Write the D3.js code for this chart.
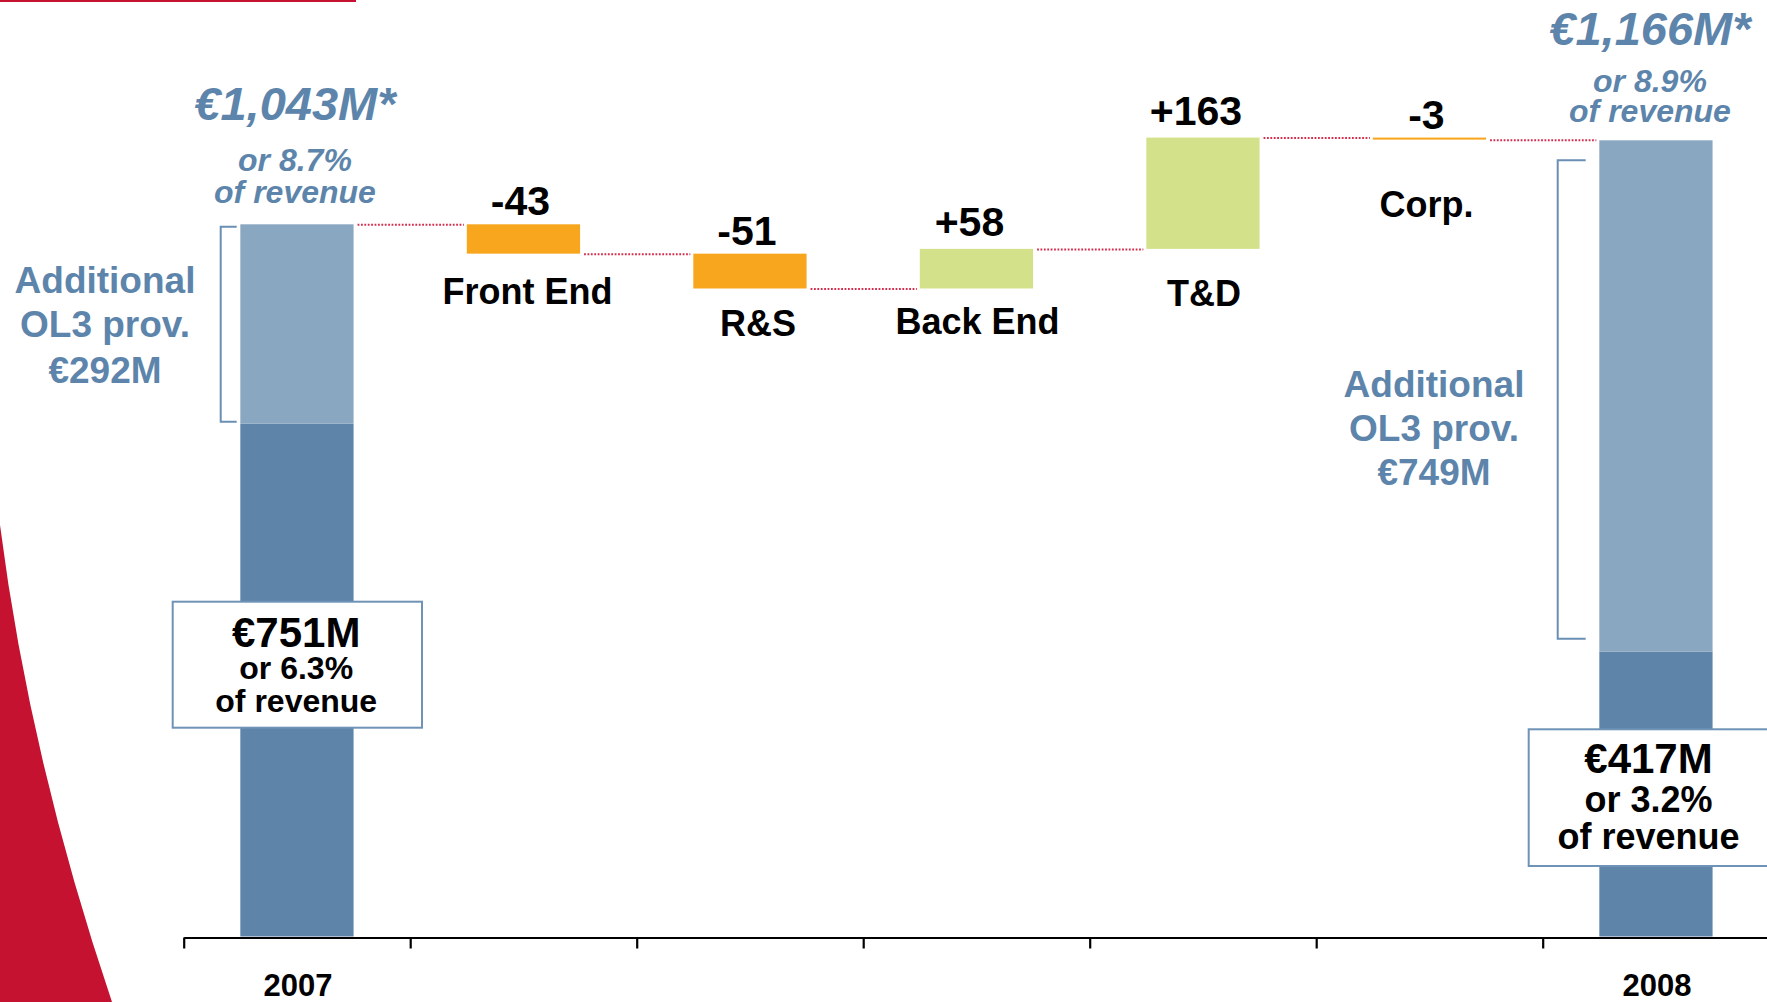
<!DOCTYPE html>
<html>
<head>
<meta charset="utf-8">
<script src="https://cdn.jsdelivr.net/npm/d3@7"></script>
<style>
  html, body { margin: 0; padding: 0; background: #fff; overflow: hidden; }
  svg { display: block; }
  text { font-family: "Liberation Sans", Arial, sans-serif; font-weight: bold; }
</style>
</head>
<body>
<svg id="chart" width="1767" height="1002"></svg>
<script>
// Operating income bridge 2007 -> 2008 (EUR millions)
const categories = ["2007", "Front End", "R&S", "Back End", "T&D", "Corp.", "2008"];
const startTotal = 1043;
const endTotal = 1166;
const deltas = [-43, -51, 58, 163, -3];
const deltaLabels = ["-43", "-51", "+58", "+163", "-3"];
const baseValues = [751, 417];          // before additional OL3 provisions
const provisions = [292, 749];          // additional OL3 provisions
const totalLabels = ["€1,043M*", "€1,166M*"];
const totalShares = ["or 8.7%", "or 8.9%"];
const baseLabels = ["€751M", "€417M"];
const baseShares = ["or 6.3%", "or 3.2%"];

const colors = {
  base: "#5e84a9",
  provision: "#8aa7c1",
  negative: "#f7a61e",
  positive: "#d3e28a",
  accent: "#5d85ab",
  red: "#c41230",
  connector: "#d42c4c"
};

const svg = d3.select("#chart");

// decorative red sweep at the lower left and rule at the top
svg.append("path")
  .attr("d", "M0,525 Q30,760 112,1002 L0,1002 Z")
  .attr("fill", colors.red);
svg.append("rect").attr("x", 0).attr("y", 0).attr("width", 356).attr("height", 2)
  .attr("fill", colors.red);

// scales
const x0 = 183.7, step = 226.5;
const x = d3.scaleBand().domain(categories)
  .range([x0, x0 + step * categories.length])
  .paddingInner(0.5).paddingOuter(0.25);
const y = d3.scaleLinear().domain([0, startTotal]).range([936.5, 224.3]);

// waterfall segments
const steps = [];
let running = startTotal;
deltas.forEach((d, i) => {
  steps.push({ cat: categories[i + 1], from: running, to: running + d, d, label: deltaLabels[i] });
  running += d;
});

// connector levels: after each bar
const levels = [startTotal, ...steps.map(s => s.to)];
const cx = c => x(c) + x.bandwidth() / 2;

svg.append("g").selectAll("line")
  .data(levels)
  .join("line")
  .attr("x1", (v, i) => x(categories[i]) + x.bandwidth() + 4)
  .attr("x2", (v, i) => x(categories[i + 1]) - 3)
  .attr("y1", v => y(v) + 0.5)
  .attr("y2", v => y(v) + 0.5)
  .attr("stroke", colors.connector)
  .attr("stroke-width", 2)
  .attr("stroke-dasharray", "1.8,1.6");

// total bars: base + provision
const totals = [
  { cat: categories[0], base: baseValues[0], total: startTotal },
  { cat: categories[6], base: baseValues[1], total: endTotal }
];
const tg = svg.append("g");
tg.selectAll("rect.base").data(totals).join("rect")
  .attr("class", "base")
  .attr("x", d => x(d.cat)).attr("width", x.bandwidth())
  .attr("y", d => y(d.base)).attr("height", d => y(0) - y(d.base))
  .attr("fill", colors.base);
tg.selectAll("rect.prov").data(totals).join("rect")
  .attr("class", "prov")
  .attr("x", d => x(d.cat)).attr("width", x.bandwidth())
  .attr("y", d => y(d.total)).attr("height", d => y(d.base) - y(d.total))
  .attr("fill", colors.provision);

// delta bars
svg.append("g").selectAll("rect").data(steps).join("rect")
  .attr("x", d => x(d.cat)).attr("width", x.bandwidth())
  .attr("y", d => y(Math.max(d.from, d.to)))
  .attr("height", d => Math.abs(y(d.from) - y(d.to)))
  .attr("fill", d => d.d < 0 ? colors.negative : colors.positive);

// delta value labels
svg.append("g").selectAll("text").data(steps).join("text")
  .attr("x", d => cx(d.cat) + (d.d < 0 ? -3 : -7))
  .attr("y", d => y(Math.max(d.from, d.to)) - (d.d < 0 ? 9 : 13))
  .attr("text-anchor", "middle")
  .attr("font-size", 41)
  .attr("fill", "#000")
  .text(d => d.label);

// category labels placed under each delta bar
const catLabelDy = [50, 48, 46, 57, 77];
svg.append("g").selectAll("text").data(steps).join("text")
  .attr("x", (d, i) => cx(d.cat) + [4, 8, 1, 1, -3][i])
  .attr("y", (d, i) => y(Math.min(d.from, d.to)) + catLabelDy[i])
  .attr("text-anchor", "middle")
  .attr("font-size", 36)
  .attr("fill", "#000")
  .text(d => d.cat);

// x axis with ticks on band boundaries
const edge = d3.scaleLinear().domain([0, categories.length]).range([x0, x0 + step * categories.length]);
const axis = svg.append("g")
  .attr("transform", `translate(0,${y(0) + 1})`)
  .call(d3.axisBottom(edge).tickValues(d3.range(categories.length)).tickSize(11).tickSizeOuter(0).tickFormat(""));
axis.selectAll("path,line").attr("stroke", "#000").attr("stroke-width", 2.2);

svg.append("g").selectAll("text").data(totals).join("text")
  .attr("x", d => cx(d.cat) + 1)
  .attr("y", 996)
  .attr("text-anchor", "middle")
  .attr("font-size", 31)
  .attr("fill", "#000")
  .text(d => d.cat);

// headline totals above the year bars
const headDy = [[-104, -53, -21], [-95, -48, -18]];
const headDx = [-2, -6];
totals.forEach((t, i) => {
  const top = y(t.total);
  const g = svg.append("g").attr("fill", colors.accent).attr("font-style", "italic").attr("text-anchor", "middle");
  g.append("text").attr("x", cx(t.cat) + headDx[i]).attr("y", top + headDy[i][0])
    .attr("font-size", 47).text(totalLabels[i]);
  g.append("text").attr("x", cx(t.cat) + headDx[i]).attr("y", top + headDy[i][1])
    .attr("font-size", 32).text(totalShares[i]);
  g.append("text").attr("x", cx(t.cat) + headDx[i]).attr("y", top + headDy[i][2])
    .attr("font-size", 32).text("of revenue");
});

// base value callout boxes
const boxes = [
  { x: 172.7, y: 601.7, w: 249.3, h: 126, cx: 296.2, fs: [42, 32, 32], base: [45, 77.3, 110.3] },
  { x: 1528.7, y: 729.3, w: 260, h: 136.7, cx: 1648.5, fs: [42, 36, 36], base: [43.4, 82.4, 119.7] }
];
boxes.forEach((b, i) => {
  svg.append("rect").attr("x", b.x).attr("y", b.y).attr("width", b.w).attr("height", b.h)
    .attr("fill", "#fff").attr("stroke", "#6e93b7").attr("stroke-width", 2);
  const lines = [baseLabels[i], baseShares[i], "of revenue"];
  svg.append("g").attr("text-anchor", "middle").attr("fill", "#000")
    .selectAll("text").data(lines).join("text")
    .attr("x", b.cx).attr("y", (d, j) => b.y + b.base[j])
    .attr("font-size", (d, j) => b.fs[j])
    .text(d => d);
});

// OL3 provision brackets and notes
const brackets = [
  { xLine: 220.7, xEnd: 236.7, y1: y(startTotal) + 2.4, y2: y(baseValues[0]) - 2 },
  { xLine: 1557.7, xEnd: 1585.7, y1: y(endTotal) + 20, y2: y(baseValues[1]) - 13 }
];
brackets.forEach(b => {
  svg.append("path")
    .attr("d", `M${b.xEnd},${b.y1} H${b.xLine} V${b.y2} H${b.xEnd}`)
    .attr("fill", "none").attr("stroke", "#6a8fb4").attr("stroke-width", 2);
});
const notes = [
  { cx: 105, base: [292.7, 337.3, 382.7] },
  { cx: 1434, base: [396.7, 440.5, 485] }
];
notes.forEach((n, i) => {
  const lines = ["Additional", "OL3 prov.", `€${provisions[i]}M`];
  svg.append("g").attr("text-anchor", "middle").attr("fill", colors.accent)
    .selectAll("text").data(lines).join("text")
    .attr("x", n.cx).attr("y", (d, j) => n.base[j])
    .attr("font-size", 37)
    .text(d => d);
});
</script>
</body>
</html>
